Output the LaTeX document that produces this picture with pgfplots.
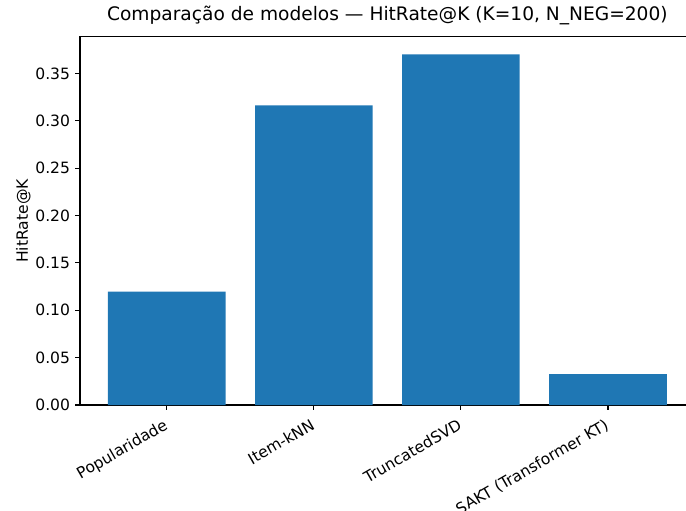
\documentclass[border=0pt]{standalone}
\usepackage{fontspec}
\setmainfont{DejaVu Sans}
\usepackage{pgfplots}
\pgfplotsset{compat=1.18}
\definecolor{mplblue}{HTML}{1F77B4}
\begin{document}
\begin{tikzpicture}
\begin{axis}[
  name=ax,
  at={(0,0)}, anchor=south west,
  scale only axis,
  width=442.6bp, height=265bp,
  xmin=-0.59, xmax=3.59,
  ymin=0, ymax=0.3886,
  xtick=data,
  xticklabels={Popularidade,Item-kNN,TruncatedSVD,SAKT (Transformer KT)},
  ytick={0,0.05,0.10,0.15,0.20,0.25,0.30,0.35},
  yticklabel style={/pgf/number format/fixed,/pgf/number format/fixed zerofill,/pgf/number format/precision=2,/pgf/number format/assume math mode=true},
  tick align=outside,
  xtick pos=bottom, ytick pos=left,
  major tick length=3.5bp,
  every tick/.style={black, line width=0.8bp},
  axis line style={line width=0.8bp, black},
  tick label style={font=\fontsize{11.2bp}{13bp}\selectfont},
  xticklabel style={rotate=30, anchor=north east, inner sep=0pt, yshift=-3.5bp, xshift=-5.4bp},
  yticklabel style={inner sep=0pt, xshift=-3.5bp},
  ylabel={HitRate@K},
  ylabel style={font=\fontsize{11.2bp}{13bp}\selectfont},
  title={Comparação de modelos — HitRate@K (K=10, N\_NEG=200)},
  title style={font=\fontsize{13.4bp}{15bp}\selectfont, at={(0.5,1)}, anchor=base, inner sep=0pt, yshift=6bp},
  ybar, bar width=0.8,
]
\addplot[fill=mplblue, draw=none] coordinates {(0,0.1196) (1,0.3163) (2,0.3701) (3,0.0327)};
\end{axis}
\pgfresetboundingbox
\useasboundingbox (ax.south west) ++(-57.6bp,-76.3bp) rectangle ++(493.9bp,367.9bp);
\end{tikzpicture}
\end{document}
